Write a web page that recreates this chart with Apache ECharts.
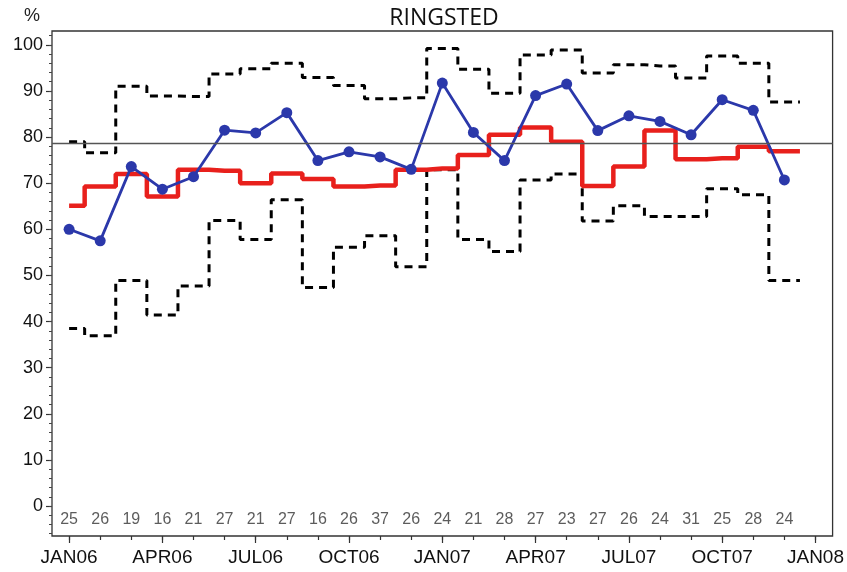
<!DOCTYPE html>
<html>
<head>
<meta charset="utf-8">
<script src="https://cdn.jsdelivr.net/npm/echarts@6/dist/echarts.min.js"></script>
<style>
html,body{margin:0;padding:0;background:#fff;}
#chart{width:847px;height:572px;}
</style>
</head>
<body>
<div id="chart"></div>
<script>
// ---- data (monthly, JAN06 .. DEC07) ----
const monthIndex = [0,1,2,3,4,5,6,7,8,9,10,11,12,13,14,15,16,17,18,19,20,21,22,23];
const counts = [25,26,19,16,21,27,21,27,16,26,37,26,24,21,28,27,23,27,26,24,31,25,28,24];
const observed = [60,57.5,73.6,68.7,71.4,81.5,80.9,85.3,74.9,76.8,75.7,73.0,91.7,81.0,74.9,89.0,91.5,81.4,84.6,83.4,80.5,88.1,85.8,70.7];
const expected = [65.1,69.3,72.0,67.1,72.9,72.7,70.0,72.1,70.9,69.3,69.5,72.9,73.2,76.1,80.5,82.1,79.0,69.4,73.6,81.4,75.2,75.4,77.9,76.9];
const upperLimit = [79.0,76.6,91.0,88.9,88.8,93.7,94.8,96.0,92.9,91.2,88.3,88.5,99.2,94.7,89.5,97.8,98.9,93.9,95.7,95.4,92.8,97.6,96.0,87.6];
const lowerLimit = [38.5,36.9,48.9,41.4,47.7,61.9,57.8,66.4,47.4,56.1,58.6,51.9,72.9,57.8,55.2,70.7,72.0,61.8,65.1,62.8,62.8,68.8,67.5,48.9];
const referenceLevel = 78.7;
const xTickPositions = [0,3,6,9,12,15,18,21,24];
const xTickLabels = ['JAN06','APR06','JUL06','OCT06','JAN07','APR07','JUL07','OCT07','JAN08'];
const yTickValues = [0,10,20,30,40,50,60,70,80,90,100];
const titleText = 'RINGSTED';
const yUnit = '%';

// ---- helpers ----
function stepData(arr){
  const d = arr.map((v,i)=>[monthIndex[i], v]);
  d.push([monthIndex[arr.length-1] + 0.5, arr[arr.length-1]]);
  return d;
}
const monthTicks = [];
for (let i = 0; i <= 24; i++) monthTicks.push(i);
const minorY = [];
for (let v = -6; v <= 102; v += 2) minorY.push(v);

const narrow = "'Liberation Sans Narrow','Arial Narrow','Liberation Sans',Arial,sans-serif";
const sans = "'Liberation Sans',Arial,sans-serif";

const chart = echarts.init(document.getElementById('chart'), null, {renderer:'canvas'});
const XMIN = -0.55, XMAX = 24.55, YMIN = -6.5, YMAX = 103;
const noLine = {show:false, onZero:false};

chart.setOption({
  animation: false,
  backgroundColor: '#fff',
  grid: {left: 52, right: 14, top: 31, bottom: 36, show: true, borderColor: '#333', borderWidth: 1.3, backgroundColor: 'transparent'},
  graphic: [
    {type:'text', left: 24, top: 7, style:{text: yUnit, font: "18px " + sans, fill:'#222'}},
    {type:'text', x: 444, y: 18, style:{text: titleText, font: "23px 'Open Sans',sans-serif", fill:'#111', textAlign:'center', textVerticalAlign:'middle'}}
  ],
  xAxis: [
    {type:'value', min: XMIN, max: XMAX, position:'bottom',
     axisLine: noLine, splitLine:{show:false},
     axisTick:{show:true, customValues: monthTicks, length: 4, lineStyle:{color:'#333', width:1.2}},
     axisLabel:{show:true, customValues: xTickPositions, margin: 12,
       formatter: v => xTickLabels[xTickPositions.indexOf(Math.round(v))] || '',
       fontFamily: sans, fontSize: 19, color:'#111'}},
    {type:'value', min: XMIN, max: XMAX, position:'bottom',
     axisLine: noLine, splitLine:{show:false}, axisLabel:{show:false},
     axisTick:{show:true, customValues: xTickPositions, length: 7, lineStyle:{color:'#333', width:1.2}}}
  ],
  yAxis: [
    {type:'value', min: YMIN, max: YMAX, position:'left',
     axisLine: noLine, splitLine:{show:false},
     axisTick:{show:true, customValues: yTickValues, length: 6, lineStyle:{color:'#333', width:1.2}},
     axisLabel:{show:true, customValues: yTickValues, margin: 9, fontFamily: sans, fontSize: 18, color:'#111'}},
    {type:'value', min: YMIN, max: YMAX, position:'left',
     axisLine: noLine, splitLine:{show:false}, axisLabel:{show:false},
     axisTick:{show:true, customValues: minorY, length: 3, lineStyle:{color:'#444', width:1}}}
  ],
  series: [
    {name:'upper', type:'line', step:'middle', data: stepData(upperLimit), symbol:'none',
     lineStyle:{color:'#000', width:3, type:[8,6]}, z:2},
    {name:'lower', type:'line', step:'middle', data: stepData(lowerLimit), symbol:'none',
     lineStyle:{color:'#000', width:3, type:[8,6]}, z:2},
    {name:'expected', type:'line', step:'middle', data: stepData(expected), symbol:'none',
     lineStyle:{color:'#e8201c', width:4.5}, z:3,
     markLine:{silent:true, symbol:'none', label:{show:false},
       lineStyle:{color:'#555', width:1.4, type:'solid'}, data:[{yAxis: referenceLevel}]}},
    {name:'observed', type:'line', data: observed.map((v,i)=>[monthIndex[i], v]),
     symbol:'circle', symbolSize: 11, itemStyle:{color:'#2b38aa'},
     lineStyle:{color:'#2b38aa', width:2.8}, z:4},
    {name:'counts', type:'scatter', data: counts.map((c,i)=>[monthIndex[i], -3, c]),
     symbolSize: 0, z:5,
     label:{show:true, position:'inside', formatter: p => String(p.value[2]),
       fontFamily: narrow, fontSize: 16, color:'#333'}}
  ]
});
</script>
</body>
</html>
